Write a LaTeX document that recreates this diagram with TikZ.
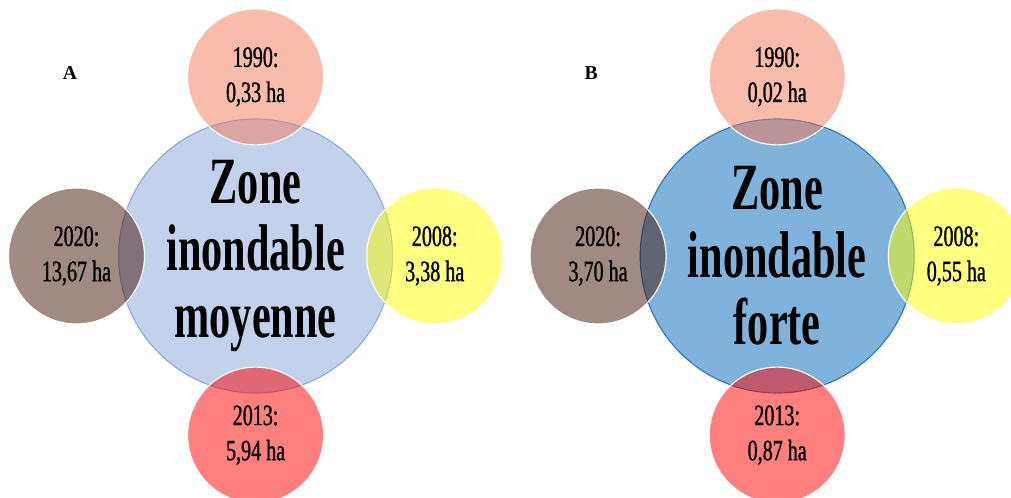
\documentclass[tikz,border=0pt]{standalone}
\usepackage{fontspec}
\setmainfont{Liberation Serif}
\newfontfamily\zonefont[FakeStretch=0.64]{Liberation Serif}
\newfontfamily\yearfont[FakeStretch=0.68, FakeBold=1]{Liberation Serif}
\usetikzlibrary{positioning}
\definecolor{zlight}{HTML}{C2D1EC}
\definecolor{zlightline}{HTML}{8EA9DB}
\definecolor{zstrong}{HTML}{7FB3DC}
\definecolor{zstrongline}{HTML}{2E75B6}
\definecolor{cpink}{RGB}{243,121,87}
\definecolor{cbrown}{RGB}{65,21,9}
\definecolor{cyellow}{RGB}{255,255,0}
\definecolor{cred}{RGB}{255,0,0}
\tikzset{
  every picture/.style={line width=0.8pt},
  zone/.style={circle, draw=#1line, fill=#1, minimum size=6.85cm, inner sep=0pt, align=center,
    font=\zonefont\bfseries\fontsize{47}{48}\selectfont},
  zone/.default=zlight,
  yr/.style={circle, draw=white, fill=#1, fill opacity=0.5, text opacity=1, minimum size=3.4cm,
    inner sep=0pt, align=center, font=\yearfont\fontsize{21}{25}\selectfont},
  panel/.style={font=\bfseries\fontsize{14}{16}\selectfont},
}

\begin{document}
\begin{tikzpicture}
  \useasboundingbox (0,0) rectangle (25.275,-12.45);
  % A : zone moyenne
  \node[panel] (pA) at (1.75,-1.83) {A};
  \node[zone=zlight] (zA) at (6.39,-6.4) {Zone\\inondable\\moyenne};
  \node[yr=cpink, above=-0.675cm of zA] (aA) {1990:\\0,33 ha};
  \node[yr=cyellow, right=-0.675cm of zA] (bA) {2008:\\3,38 ha};
  \node[yr=cred, below=-0.675cm of zA] (cA) {2013:\\5,94 ha};
  \node[yr=cbrown, left=-0.675cm of zA] (dA) {2020:\\13,67 ha};
  % B : zone forte
  \node[panel] (pB) at (14.78,-1.83) {B};
  \node[zone=zstrong] (zB) at (19.43,-6.4) {Zone\\inondable\\forte};
  \node[yr=cpink, above=-0.675cm of zB] (aB) {1990:\\0,02 ha};
  \node[yr=cyellow, right=-0.675cm of zB] (bB) {2008:\\0,55 ha};
  \node[yr=cred, below=-0.675cm of zB] (cB) {2013:\\0,87 ha};
  \node[yr=cbrown, left=-0.675cm of zB] (dB) {2020:\\3,70 ha};
\end{tikzpicture}
\end{document}
